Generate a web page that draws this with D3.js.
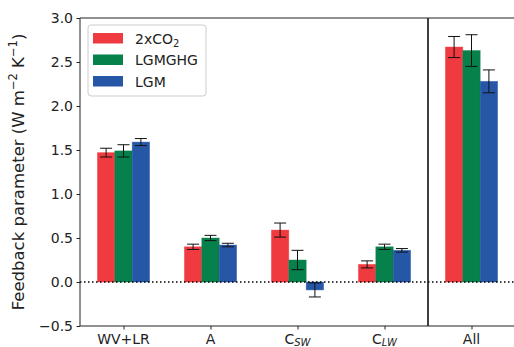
<!DOCTYPE html>
<html>
<head>
<meta charset="utf-8">
<script src="https://cdn.jsdelivr.net/npm/d3@7"></script>
<style>
  body { margin: 0; background: #fff; }
  text { font-family: "DejaVu Sans", sans-serif; fill: #222; }
</style>
</head>
<body>
<script>
//// DATA
var categories = ["WV+LR", "A", "CSW", "CLW", "All"];
var series = ["2xCO2", "LGMGHG", "LGM"];
var colors = ["#ef3a40", "#06814b", "#2657a6"];

// bar heights per series, in category order
var co2Values    = [1.47, 0.40, 0.59, 0.20, 2.67];
var lgmghgValues = [1.49, 0.50, 0.25, 0.40, 2.63];
var lgmValues    = [1.59, 0.42, -0.09, 0.36, 2.28];

// error bar half-widths
var co2Err    = [0.05, 0.03, 0.08, 0.04, 0.12];
var lgmghgErr = [0.07, 0.03, 0.11, 0.03, 0.18];
var lgmErr    = [0.04, 0.02, 0.08, 0.02, 0.13];

var yTicks = [-0.5, 0.0, 0.5, 1.0, 1.5, 2.0, 2.5, 3.0];

//// LAYOUT
var W = 514, H = 347;
var margin = {top: 18, right: 0, bottom: 21, left: 80};
var width = 515 - margin.left, height = H - margin.top - margin.bottom;

var svg = d3.select("body").append("svg")
    .attr("width", W).attr("height", H);
var g = svg.append("g")
    .attr("transform", "translate(" + margin.left + "," + margin.top + ")");

var x = d3.scaleLinear().domain([-0.5, 4.5]).range([0, width]);
var y = d3.scaleLinear().domain([-0.5, 3.0]).range([height, 0]);

var valueSets = [co2Values, lgmghgValues, lgmValues];
var errSets = [co2Err, lgmghgErr, lgmErr];
var barW = 0.2;

var bars = [];
series.forEach(function(s, si) {
  categories.forEach(function(c, ci) {
    bars.push({s: si, c: ci, v: valueSets[si][ci], e: errSets[si][ci]});
  });
});

// bars
g.selectAll(".bar").data(bars).enter().append("rect")
  .attr("class", "bar")
  .attr("x", function(d) { return x(d.c + (d.s - 1) * barW - barW / 2); })
  .attr("width", x(barW) - x(0))
  .attr("y", function(d) { return y(Math.max(0, d.v)); })
  .attr("height", function(d) { return Math.abs(y(d.v) - y(0)); })
  .attr("fill", function(d) { return colors[d.s]; })
  .attr("stroke", function(d) { return colors[d.s]; })
  .attr("stroke-opacity", 0.5)
  .attr("stroke-width", 0.8);

// error bars
var cap = 6;
var eb = g.selectAll(".err").data(bars).enter().append("g")
  .attr("class", "err")
  .attr("stroke", "#111").attr("stroke-width", 1);
eb.append("line")
  .attr("x1", function(d) { return x(d.c + (d.s - 1) * barW); })
  .attr("x2", function(d) { return x(d.c + (d.s - 1) * barW); })
  .attr("y1", function(d) { return y(d.v - d.e); })
  .attr("y2", function(d) { return y(d.v + d.e); });
[-1, 1].forEach(function(sgn) {
  eb.append("line")
    .attr("x1", function(d) { return x(d.c + (d.s - 1) * barW) - cap; })
    .attr("x2", function(d) { return x(d.c + (d.s - 1) * barW) + cap; })
    .attr("y1", function(d) { return y(d.v + sgn * d.e); })
    .attr("y2", function(d) { return y(d.v + sgn * d.e); });
});

// zero line (dotted) and separator
g.append("line")
  .attr("x1", 0).attr("x2", width)
  .attr("y1", y(0)).attr("y2", y(0))
  .attr("stroke", "#000").attr("stroke-width", 1.5)
  .attr("stroke-dasharray", "1.5,2.5");
g.append("line")
  .attr("x1", x(3.5)).attr("x2", x(3.5))
  .attr("y1", 0).attr("y2", height)
  .attr("stroke", "#000").attr("stroke-width", 1.5);

// axes
var yAxis = d3.axisLeft(y).tickValues(yTicks).tickSize(3.5).tickPadding(3.5)
  .tickFormat(function(d) { return d3.format(".1f")(d).replace("-", "\u2212"); });
var gy = g.append("g").call(yAxis);
gy.select(".domain").remove();
gy.selectAll("text").style("font-size", "14px").attr("fill", "#222");
gy.selectAll("line").attr("stroke", "#222");

var xAxis = d3.axisBottom(x).tickValues(d3.range(categories.length))
  .tickSize(3.5).tickPadding(3.5).tickFormat("");
var gx = g.append("g").attr("transform", "translate(0," + height + ")").call(xAxis);
gx.select(".domain").remove();
gx.selectAll("line").attr("stroke", "#222");

// x tick labels with subscripts
categories.forEach(function(c, i) {
  var t = g.append("text")
    .attr("x", x(i)).attr("y", height + 18)
    .attr("text-anchor", "middle")
    .style("font-size", "14px");
  if (c === "CSW" || c === "CLW") {
    t.append("tspan").text("C");
    t.append("tspan").text(c.slice(1))
      .style("font-size", "10px").style("font-style", "italic")
      .attr("dy", 2);
  } else {
    t.text(c);
  }
});

// spines
g.append("path")
  .attr("d", "M0,0V" + height + "H" + width + "M0,0H" + width)
  .attr("fill", "none").attr("stroke", "#222").attr("stroke-width", 1);

// y label
var yl = svg.append("text")
  .attr("transform", "translate(24," + (margin.top + height / 2) + ") rotate(-90)")
  .attr("text-anchor", "middle")
  .style("font-size", "16.5px");
yl.append("tspan").text("Feedback parameter (W m");
yl.append("tspan").text("\u22122").style("font-size", "11.5px").attr("dy", -7);
yl.append("tspan").text(" K").attr("dy", 7);
yl.append("tspan").text("\u22121").style("font-size", "11.5px").attr("dy", -7);
yl.append("tspan").text(")").attr("dy", 7);

// legend
var lg = g.append("g").attr("transform", "translate(8,7)");
lg.append("rect")
  .attr("width", 118).attr("height", 71).attr("rx", 3)
  .attr("fill", "#fff").attr("fill-opacity", 0.8)
  .attr("stroke", "#ccc").attr("stroke-width", 1);
series.forEach(function(s, i) {
  var row = lg.append("g").attr("transform", "translate(5," + (8 + i * 21.5) + ")");
  row.append("rect").attr("width", 30).attr("height", 10.5).attr("fill", colors[i]);
  var t = row.append("text").attr("x", 42).attr("y", 10.5).style("font-size", "14px");
  if (s === "2xCO2") {
    t.append("tspan").text("2xCO");
    t.append("tspan").text("2").style("font-size", "10px").attr("dy", 3);
  } else {
    t.text(s);
  }
});
</script>
</body>
</html>
